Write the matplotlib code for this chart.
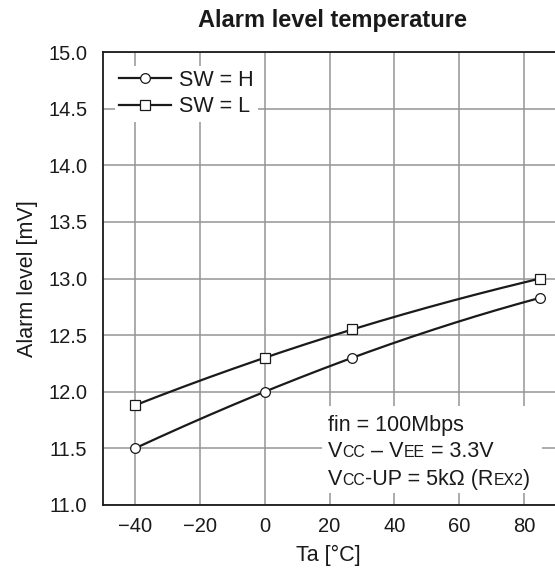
import numpy as np
import matplotlib
matplotlib.use("Agg")
import matplotlib.pyplot as plt
from matplotlib.patches import Rectangle
from matplotlib.transforms import offset_copy

# %% Datos
temp = [-40, 0, 27, 85]
alarm_h = [11.5, 12.0, 12.3, 12.83]
alarm_l = [11.88, 12.3, 12.55, 13.0]
xticks = [-40, -20, 0, 20, 40, 60, 80]
yticks = [11.0, 11.5, 12.0, 12.5, 13.0, 13.5, 14.0, 14.5, 15.0]

plt.rcParams['font.family'] = ['Liberation Sans', 'DejaVu Sans']
dark = '#1a1a1a'
fs_tick = 14.5
fs = 15.5

fig = plt.figure(figsize=(5.55, 5.73), dpi=100)
ax = fig.add_axes([102.5 / 555, 1 - 505 / 573, 1 - 102.5 / 555, (505 - 52) / 573])


def curva(x, y):
    # curva suave que pasa por los puntos medidos
    c = np.polyfit(x, y, 3)
    xs = np.linspace(min(x), max(x), 200)
    return xs, np.polyval(c, xs)


for y, mk, lab in [(alarm_h, 'o', 'SW = H'), (alarm_l, 's', 'SW = L')]:
    xs, ys = curva(temp, y)
    ax.plot(xs, ys, color=dark, lw=1.6, zorder=3)
    ax.plot(temp, y, linestyle='none', marker=mk, ms=7 if mk == 'o' else 7.5,
            mfc='white', mec=dark, mew=0.9, zorder=4)
    ax.plot([], [], color=dark, lw=1.6, marker=mk, ms=7 if mk == 'o' else 7.5,
            mfc='white', mec=dark, mew=0.9, label=lab)

ax.set_xlim(-50, 89.5)
ax.set_ylim(11.0, 15.0)
ax.set_xticks(xticks)
ax.set_yticks(yticks)
ax.set_yticklabels([f'{v:.1f}' for v in yticks])
ax.tick_params(length=0, labelsize=fs_tick, colors=dark)
ax.tick_params(axis='y', pad=11)
ax.tick_params(axis='x', pad=9)
ax.grid(True, color='#959595', lw=1.1)
ax.set_axisbelow(True)
for s in ['left', 'bottom', 'top']:
    ax.spines[s].set_color(dark)
    ax.spines[s].set_linewidth(1.3)
ax.spines['right'].set_visible(False)

ax.set_xlabel('Ta [°C]', fontsize=fs, color=dark, labelpad=6)
ax.set_ylabel('Alarm level [mV]', fontsize=fs, color=dark, labelpad=7)
fig.text(333 / 555, 1 - 20 / 573, 'Alarm level temperature', fontsize=17,
         fontweight='bold', color=dark, ha='center', va='center')

leg = ax.legend(loc='upper left', bbox_to_anchor=(0.028, 0.97), fontsize=fs,
                frameon=True, fancybox=False, edgecolor='none', facecolor='white',
                framealpha=1, handlelength=2.4, handletextpad=0.35,
                labelspacing=0.25, borderpad=0.2, borderaxespad=0)
for t in leg.get_texts():
    t.set_color(dark)

# caja blanca detrás de las condiciones
ax.add_patch(Rectangle((17.8, 11.106), 67.7, 0.768,
                       facecolor='white', edgecolor='none', zorder=1))

fig.canvas.draw()
rend = fig.canvas.get_renderer()


def linea(y_px, partes):
    # escribe una línea de texto por trozos (letras pequeñas para subíndices)
    trans = fig.transFigure
    x0 = 328 / 555
    desplaz = 0
    for txt, size in partes:
        t = fig.text(x0, 1 - y_px / 573, txt, fontsize=size, color=dark,
                     ha='left', va='baseline',
                     transform=offset_copy(trans, fig=fig, x=desplaz, units='dots'))
        w = t.get_window_extent(rend).width
        desplaz += w


chico = fs * 0.74
linea(431, [('fin = 100Mbps', fs)])
linea(457, [('V', fs), ('CC', chico), (' – V', fs), ('EE', chico), (' = 3.3V', fs)])
linea(485, [('V', fs), ('CC', chico), ('-UP = 5kΩ (R', fs), ('EX2', chico), (')', fs)])

fig.savefig('out.png', dpi=100)
